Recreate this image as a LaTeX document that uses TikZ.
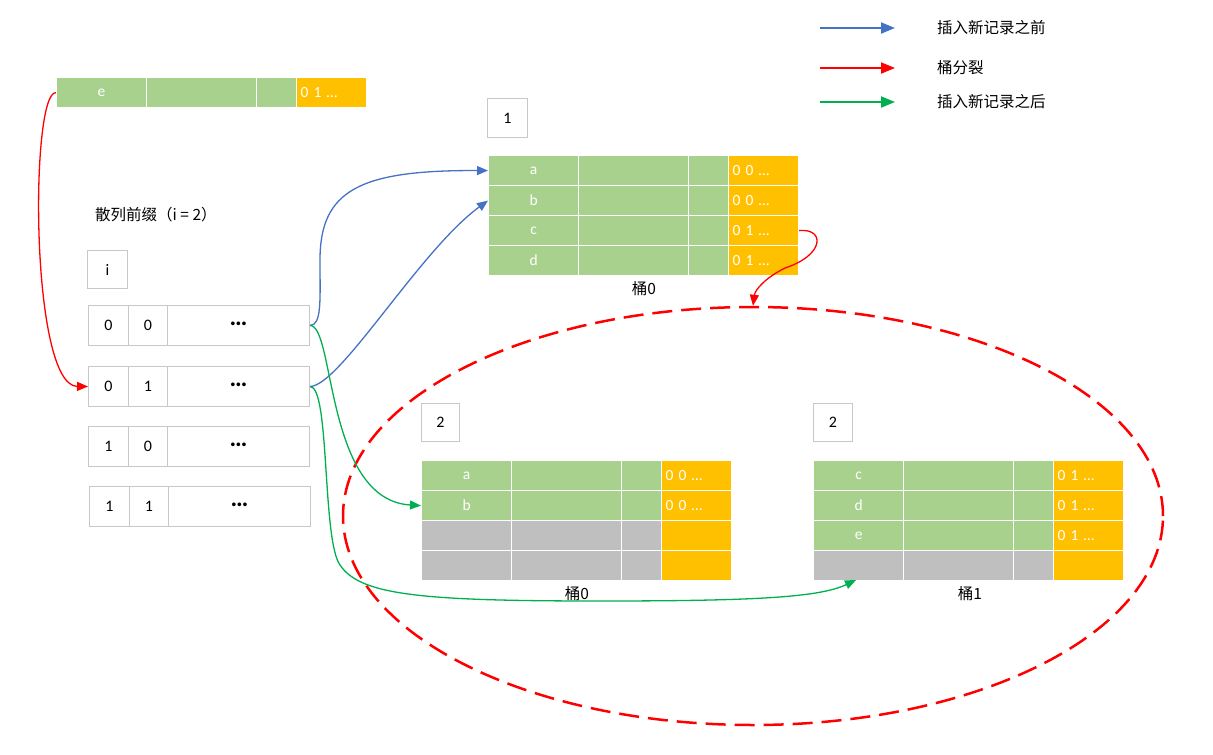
\documentclass[tikz,border=0pt]{standalone}
\usepackage{fontspec}
\setmainfont{Carlito}
\newfontfamily\cjk{Noto Sans CJK SC}
\usetikzlibrary{arrows.meta,shapes.geometric}
\definecolor{cg}{HTML}{A9D18E}
\definecolor{cor}{HTML}{FFC000}
\definecolor{cgr}{HTML}{BFBFBF}
\definecolor{cbord}{HTML}{C8C8C8}
\definecolor{cblue}{HTML}{4472C4}
\definecolor{cred}{HTML}{FF0000}
\definecolor{cgreen}{HTML}{00B050}
\tikzset{
  cell/.style={draw=white,line width=1.2pt,anchor=north west,inner sep=0pt,
    minimum height=30pt,text=white,font=\fontsize{15.5}{17}\selectfont},
  hbox/.style={draw=cbord,line width=1pt,anchor=north west,inner sep=0pt,
    minimum height=40pt,font=\fontsize{16}{18}\selectfont},
  lbl/.style={inner sep=0pt,font=\cjk\fontsize{15.5}{17}\selectfont},
  conn/.style={line width=1.3pt,-{Triangle[length=11pt,width=9pt]}},
  legarr/.style={line width=2pt,-{Triangle[length=14pt,width=11pt]}},
}
\newcommand\brow[6]{%
  \node[cell,fill=#4,minimum width=90pt] (#1a) at (#2,#3) {#5};
  \node[cell,fill=#4,minimum width=110pt] (#1b) at ({#2+90},#3) {};
  \node[cell,fill=#4,minimum width=40pt] (#1c) at ({#2+200},#3) {};
  \node[cell,fill=cor,minimum width=70pt,text width=62pt,align=left] (#1d) at ({#2+240},#3) {#6};
}
\newcommand\hrow[5]{%
  \node[hbox,minimum width=40pt] (#1a) at (#2,#3) {#4};
  \node[hbox,minimum width=39pt] (#1b) at ({#2+40},#3) {#5};
  \node[hbox,minimum width=142pt] (#1c) at ({#2+79},#3) {\fontsize{25}{25}\selectfont\bfseries\raisebox{4pt}{…}};
}
\begin{document}
\begin{tikzpicture}[x=1pt,y=-1pt]
\useasboundingbox (0,0) rectangle (1213,755);

% top record e
\brow{e}{56}{77}{cg}{e}{0 1 …}

% old bucket 0
\node[hbox,minimum width=40pt,minimum height=39pt] (one) at (487,98) {1};
\brow{pa}{488}{155}{cg}{a}{0 0 …}
\brow{pb}{488}{185}{cg}{b}{0 0 …}
\brow{pc}{488}{215}{cg}{c}{0 1 …}
\brow{pd}{488}{245}{cg}{d}{0 1 …}
\node[lbl] (plbl) at (644,289) {桶0};

% hash prefix
\node[lbl,anchor=west] (hlbl) at (95,215) {散列前缀（i = 2）};
\node[hbox,minimum width=40pt,minimum height=38pt] (ibox) at (87,250) {i};
\hrow{h0}{88}{305}{0}{0}
\hrow{h1}{88}{366}{0}{1}
\hrow{h2}{88}{426}{1}{0}
\hrow{h3}{89}{486}{1}{1}

% new bucket 0
\node[hbox,minimum width=38pt,minimum height=38pt] (two0) at (421,403) {2};
\brow{qa}{421}{460}{cg}{a}{0 0 …}
\brow{qb}{421}{490}{cg}{b}{0 0 …}
\brow{qc}{421}{520}{cgr}{}{}
\brow{qd}{421}{550}{cgr}{}{}
\node[lbl] (qlbl) at (577,594) {桶0};

% new bucket 1
\node[hbox,minimum width=39pt,minimum height=38pt] (two1) at (813,403) {2};
\brow{ra}{813}{460}{cg}{c}{0 1 …}
\brow{rb}{813}{490}{cg}{d}{0 1 …}
\brow{rc}{813}{520}{cg}{e}{0 1 …}
\brow{rd}{813}{550}{cgr}{}{}
\node[lbl] (rlbl) at (970,594) {桶1};

% ellipse
\node[ellipse,draw=cred,line width=2.5pt,dash pattern=on 20pt off 9pt,
  minimum width=820pt,minimum height=418pt,inner sep=0pt] (ell) at (753,516) {};

% legend
\coordinate (l1s) at (820,28); \coordinate (l1e) at (895,28);
\coordinate (l2s) at (820,68); \coordinate (l2e) at (895,68);
\coordinate (l3s) at (820,102); \coordinate (l3e) at (895,102);
\draw[legarr,cblue] (l1s) -- (l1e);
\draw[legarr,cred] (l2s) -- (l2e);
\draw[legarr,cgreen] (l3s) -- (l3e);
\node[lbl,anchor=west] (t1) at (937,28) {插入新记录之前};
\node[lbl,anchor=west] (t2) at (937,68) {桶分裂};
\node[lbl,anchor=west] (t3) at (937,102) {插入新记录之后};

% connectors
\coordinate (bend1) at (785,268);
\coordinate (b1m) at (320,260);
\coordinate (g2m) at (340,565);
\coordinate (g2n) at (600,601);
\coordinate (g2t) at (856,580);
\draw[conn,cred] (ea.west) .. controls (30,91) and (30,386) .. (h1a.west);
\draw[conn,cred] (pcd.east) .. controls (825,228) and (825,255) .. (bend1)
   .. controls (765,278) and (755,290) .. (ell.north);
\draw[conn,cblue] (h0c.east) .. controls (322,325) and (320,300) .. (b1m)
   .. controls (320,190) and (360,170) .. (paa.west);
\draw[conn,cblue] (h1c.east) .. controls (340,386) and (420,250) .. (pba.west);
\draw[conn,cgreen] (h0c.east) .. controls (335,325) and (325,500) .. (qba.west);
\draw[conn,cgreen] (h1c.east) .. controls (330,386) and (322,540) .. (g2m)
   .. controls (360,595) and (420,601) .. (g2n)
   .. controls (760,601) and (820,597) .. (g2t);
\end{tikzpicture}
\end{document}
